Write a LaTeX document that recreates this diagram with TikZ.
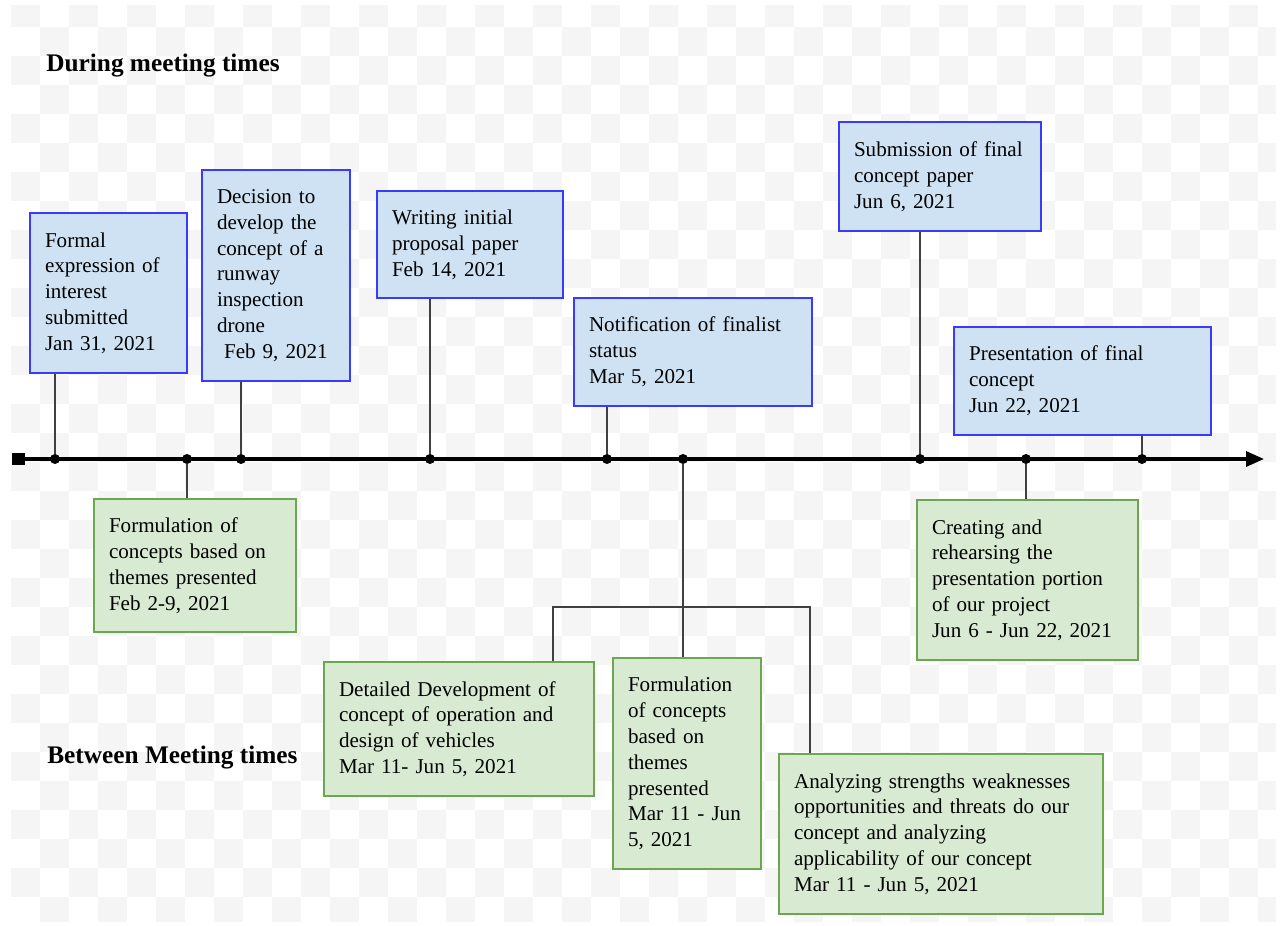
\documentclass[tikz,border=0pt]{standalone}
\usepackage{fontspec}
\setmainfont{Liberation Serif}
\usetikzlibrary{arrows.meta}

\definecolor{evtfill}{RGB}{207,226,243}
\definecolor{evtline}{RGB}{58,58,255}
\definecolor{gapfill}{RGB}{217,234,211}
\definecolor{gapline}{RGB}{106,168,79}
\definecolor{stemgray}{RGB}{64,64,64}
\definecolor{checker}{RGB}{245,245,245}

\begin{document}
\begin{tikzpicture}[x=0.02cm, y=-0.02cm,
        meet/.style={draw=evtline, fill=evtfill, line width=0.9pt, align=left,
            inner xsep=0.3cm, inner ysep=0pt, font=\fontsize{12}{14.7}\selectfont},
        between/.style={meet, draw=gapline, fill=gapfill},
        stem/.style={draw=stemgray, line width=1.1pt},
        tick/.style={circle, fill=black, inner sep=0pt, minimum size=0.2cm},
        heading/.style={anchor=base west, inner sep=0pt, font=\fontsize{14.4}{17}\selectfont\bfseries}]
                \useasboundingbox (0,0) rectangle (1286,926);
                % checker background
                \begin{scope}
                    \clip (11,6) rectangle (1276,921);
                    \foreach \i in {0,...,44} {
                        \pgfmathtruncatemacro{\off}{mod(\i,2)}
                        \foreach \j in {0,2,...,32}
                            \fill[checker] (11+29*\i,-2+29*\j+29*\off) rectangle ++(29,29);
                    }
                \end{scope}

                \node[heading] (during) at (46,72) {During meeting times};
                \node[heading] (between) at (47,763) {Between Meeting times};

                % timeline
                \node[fill=black, inner sep=0pt, minimum size=0.26cm] (origin) at (18.5,459) {};
                \coordinate (tip) at (1264,459);
                \draw[line width=2pt, -{Triangle[length=0.36cm,width=0.3cm]}] (origin.center) -- (tip);
                \foreach \n/\x in {d1/55, d2/187, d3/241, d4/430, d5/607, d6/683, d7/920, d8/1026, d9/1142}
                    \node[tick] (\n) at (\x,459) {};

                % during meeting times
                \node[meet, text width=2.54cm, minimum height=3.2cm] (b1) at (108.5,293)
                    {Formal\\expression of\\interest\\submitted\\Jan 31, 2021};
                \node[meet, text width=2.36cm, minimum height=4.22cm] (b2) at (276,275.5)
                    {Decision to\\develop the\\concept of a\\runway\\inspection\\drone\\~Feb 9, 2021};
                \node[meet, text width=3.12cm, minimum height=2.14cm] (b3) at (470,244.5)
                    {Writing initial\\proposal paper\\Feb 14, 2021};
                \node[meet, text width=4.16cm, minimum height=2.16cm] (b4) at (693,352)
                    {Notification of finalist\\status\\Mar 5, 2021};
                \node[meet, text width=3.44cm, minimum height=2.18cm] (b5) at (940,176.5)
                    {Submission of final\\concept paper\\Jun 6, 2021};
                \node[meet, text width=4.54cm, minimum height=2.16cm] (b6) at (1082.5,381)
                    {Presentation of final\\concept\\Jun 22, 2021};

                % between meeting times
                \node[between, text width=3.44cm, minimum height=2.66cm] (g1) at (195,565.5)
                    {Formulation of\\concepts based on\\themes presented\\Feb 2-9, 2021};
                \node[between, text width=4.8cm, minimum height=2.68cm] (g2) at (459,729)
                    {Detailed Development of\\concept of operation and\\design of vehicles\\Mar 11- Jun 5, 2021};
                \node[between, text width=2.36cm, minimum height=4.22cm] (g3) at (687,763.5)
                    {Formulation\\of concepts\\based on\\themes\\presented\\Mar 11 - Jun\\5, 2021};
                \node[between, text width=5.88cm, minimum height=3.2cm] (g4) at (941,834)
                    {Analyzing strengths weaknesses\\opportunities and threats do our\\concept and analyzing\\applicability of our concept\\Mar 11 - Jun 5, 2021};
                \node[between, text width=3.82cm, minimum height=3.2cm] (g5) at (1027.5,580)
                    {Creating and\\rehearsing the\\presentation portion\\of our project\\Jun 6 - Jun 22, 2021};

                \draw[stem] (b1.south -| d1) -- (d1);
                \draw[stem] (b2.south -| d3) -- (d3);
                \draw[stem] (b3.south -| d4) -- (d4);
                \draw[stem] (b4.south -| d5) -- (d5);
                \draw[stem] (b5.south -| d7) -- (d7);
                \draw[stem] (b6.south -| d9) -- (d9);

                \draw[stem] (d2) -- (d2 |- g1.north);
                \draw[stem] (d6) -- (d6 |- g3.north);
                \draw[stem] (d8) -- (d8 |- g5.north);
                \coordinate (forkl) at (553,607);
                \coordinate (forkr) at (810,607);
                \draw[stem] (g2.north -| forkl) -- (forkl) -- (forkr) -- (g4.north -| forkr);
\end{tikzpicture}
\end{document}
